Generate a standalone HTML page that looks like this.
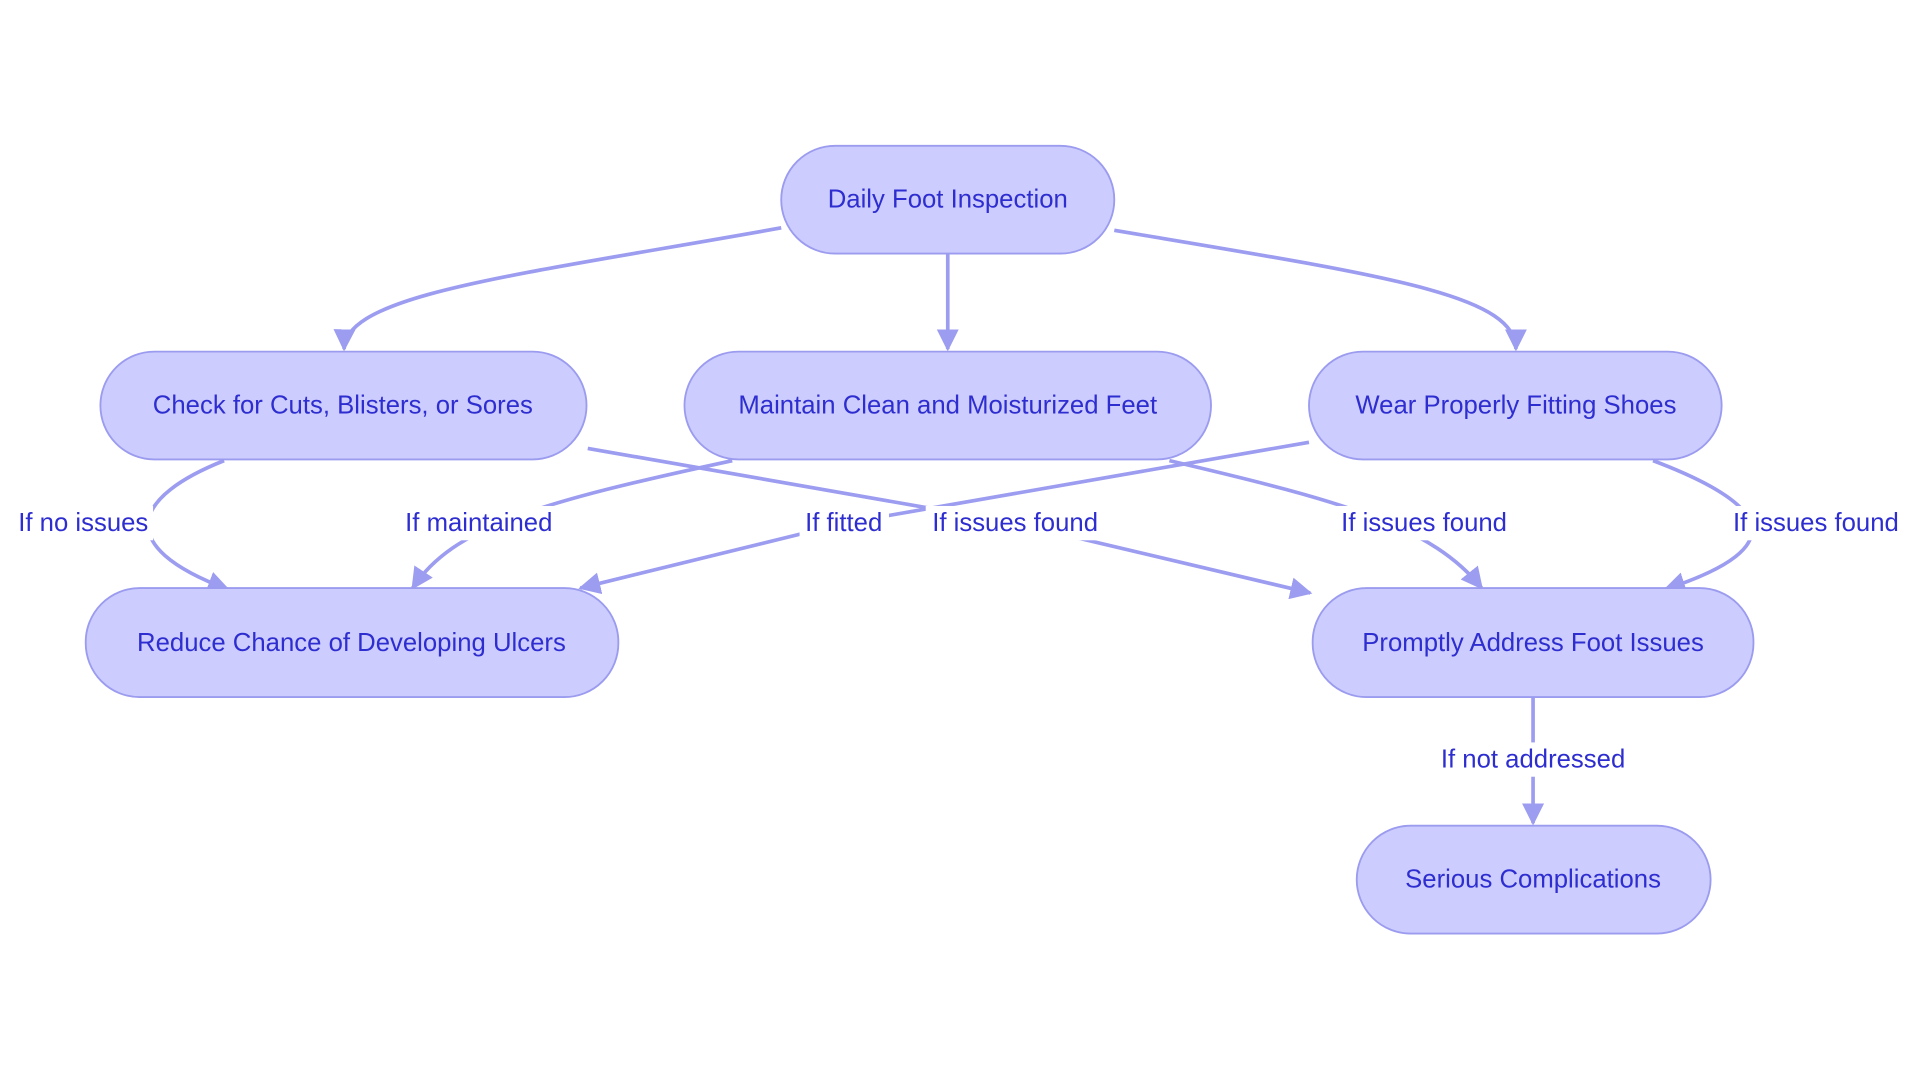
<!DOCTYPE html>
<html><head><meta charset="utf-8"><style>
html,body{margin:0;padding:0;background:#fff;width:1920px;height:1083px;overflow:hidden}
svg{display:block}
text{font-family:"Liberation Sans",sans-serif;font-size:21px;fill:#2e2ed0;text-anchor:middle;dominant-baseline:central}
.n{fill:#ccccff;stroke:#9b9bef;stroke-width:1.5}
.e{fill:none;stroke:#9c9cf0;stroke-width:3}
.lb{fill:#fff}
</style></head><body>
<svg width="1920" height="1083" viewBox="0 0 1568 884" preserveAspectRatio="none">
<defs><marker id="a" viewBox="0 0 10 10" refX="9" refY="5" markerWidth="6" markerHeight="6" orient="auto"><path d="M0,0L10,5L0,10z" fill="#9c9cf0"/></marker></defs>
<path class="e" d="M638,186 C420,225 282,240 281,285" marker-end="url(#a)"/>
<path class="e" d="M774,207 L774,285" marker-end="url(#a)"/>
<path class="e" d="M910,188 C1130,225 1238,240 1238,285" marker-end="url(#a)"/>
<path class="e" d="M183,376 C110,405 90,445 186,481" marker-end="url(#a)"/>
<path class="e" d="M598,376 C440,410 370,430 337,480" marker-end="url(#a)"/>
<path class="e" d="M1069,361 L690,427 L474,480" marker-end="url(#a)"/>
<path class="e" d="M480,366 L829,427 L1070,484" marker-end="url(#a)"/>
<path class="e" d="M955,376 C1100,410 1170,430 1210,480" marker-end="url(#a)"/>
<path class="e" d="M1350,376 C1440,410 1470,445 1360,481" marker-end="url(#a)"/>
<path class="e" d="M1252,569 L1252,672" marker-end="url(#a)"/>
<rect class="n" x="638" y="119" width="272" height="88" rx="44"/>
<rect class="n" x="82" y="287" width="397" height="88" rx="44"/>
<rect class="n" x="559" y="287" width="430" height="88" rx="44"/>
<rect class="n" x="1069" y="287" width="337" height="88" rx="44"/>
<rect class="n" x="70" y="480" width="435" height="89" rx="44"/>
<rect class="n" x="1072" y="480" width="360" height="89" rx="44"/>
<rect class="n" x="1108" y="674" width="289" height="88" rx="44"/>
<text x="774" y="163">Daily Foot Inspection</text>
<text x="280" y="331">Check for Cuts, Blisters, or Sores</text>
<text x="774" y="331">Maintain Clean and Moisturized Feet</text>
<text x="1238" y="331">Wear Properly Fitting Shoes</text>
<text x="287" y="525">Reduce Chance of Developing Ulcers</text>
<text x="1252" y="525">Promptly Address Foot Issues</text>
<text x="1252" y="718">Serious Complications</text>
<rect class="lb" x="12" y="413" width="113" height="28"/><text x="68" y="427">If no issues</text>
<rect class="lb" x="325" y="413" width="133" height="28"/><text x="391" y="427">If maintained</text>
<rect class="lb" x="653" y="413" width="73" height="28"/><text x="689" y="427">If fitted</text>
<rect class="lb" x="756" y="413" width="146" height="28"/><text x="829" y="427">If issues found</text>
<rect class="lb" x="1090" y="413" width="146" height="28"/><text x="1163" y="427">If issues found</text>
<rect class="lb" x="1410" y="413" width="146" height="28"/><text x="1483" y="427">If issues found</text>
<rect class="lb" x="1170" y="606" width="164" height="28"/><text x="1252" y="620">If not addressed</text>
</svg>
</body></html>
